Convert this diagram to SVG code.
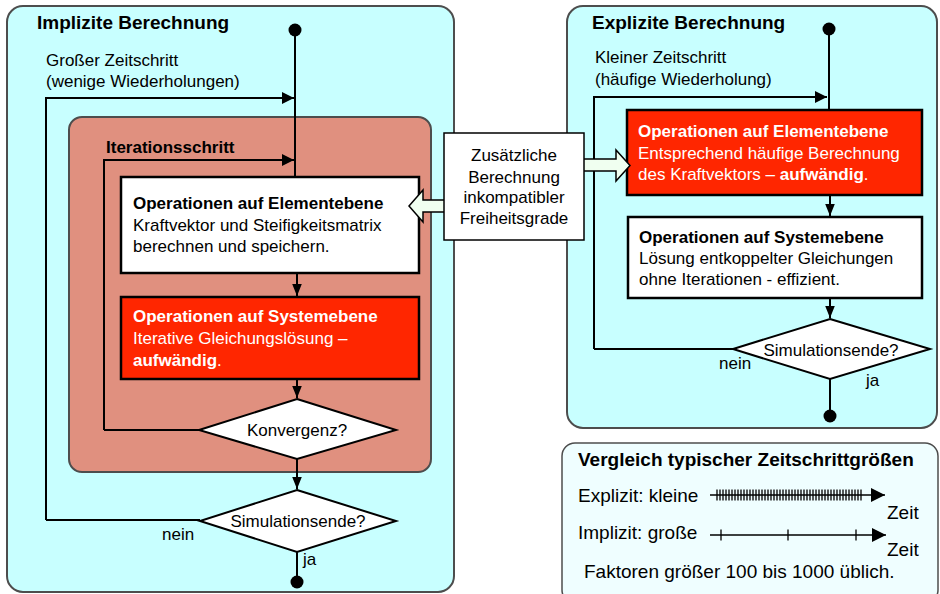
<svg xmlns="http://www.w3.org/2000/svg" width="940" height="594" viewBox="0 0 940 594">
  <defs>
    <marker id="arr" viewBox="0 0 10 10" refX="10" refY="5" markerWidth="16" markerHeight="12" markerUnits="userSpaceOnUse" orient="auto">
      <path d="M0,0 L10,5 L0,10 z" fill="#000"/>
    </marker>
    <marker id="arrS" viewBox="0 0 10 10" refX="10" refY="5" markerWidth="12" markerHeight="12" markerUnits="userSpaceOnUse" orient="auto">
      <path d="M0,1 L10,5 L0,9 z" fill="#000"/>
    </marker>
    <marker id="arrT" viewBox="0 0 10 10" refX="10" refY="5" markerWidth="20" markerHeight="14" markerUnits="userSpaceOnUse" orient="auto">
      <path d="M0,0 L10,5 L0,10 z" fill="#000"/>
    </marker>
  </defs>
  <style>
    text { font-family: "Liberation Sans", Arial, sans-serif; fill: #000; }
    .t { font-size: 17px; }
    .b { font-size: 17px; font-weight: bold; }
    .h { font-size: 19px; font-weight: bold; }
    .c { font-size: 19px; }
    .w { fill: #fff; }
    .panel { fill: #c8ffff; stroke: #4d4d4d; stroke-width: 2; }
    .iter { fill: #e0907f; stroke: #4d4d4d; stroke-width: 2; }
    .box { fill: #fff; stroke: #000; stroke-width: 2.5; }
    .hot { fill: #ff2600; stroke: #000; stroke-width: 2.5; }
    .dia { fill: #fff; stroke: #000; stroke-width: 2; }
    .ln { fill: none; stroke: #000; stroke-width: 2; }
    .thin { fill: none; stroke: #000; stroke-width: 1.3; }
    .blk { fill: #f0fff0; stroke: #000; stroke-width: 1.5; }
  </style>

  <!-- containers -->
  <g id="implicit">
    <rect class="panel" x="7" y="6" width="447" height="586" rx="16"/>
    <text class="h" x="37" y="29">Implizite Berechnung</text>
    <text class="t" x="46" y="66">Großer Zeitschritt</text>
    <text class="t" x="46" y="87">(wenige Wiederholungen)</text>
  </g>
  <g id="iteration">
    <rect class="iter" x="69" y="117" width="362" height="355" rx="13"/>
    <text class="b" x="106" y="153">Iterationsschritt</text>
  </g>
  <g id="explicit">
    <rect class="panel" x="567" y="6" width="370" height="422" rx="16"/>
    <text class="h" x="592" y="29">Explizite Berechnung</text>
    <text class="t" x="595" y="63">Kleiner Zeitschritt</text>
    <text class="t" x="595" y="85">(häufige Wiederholung)</text>
  </g>

  <!-- connectors -->
  <g id="connectors">
    <!-- implicit flow -->
    <path class="ln" d="M295,30 V177"/>
    <path class="ln" d="M46,520 H200 M46,520 V98 H294" marker-end="url(#arr)"/>
    <path class="ln" d="M104,430 H199 M104,430 V160 H294" marker-end="url(#arr)"/>
    <path class="ln" d="M297,273 V296" marker-end="url(#arrS)"/>
    <path class="ln" d="M297,379 V398" marker-end="url(#arrS)"/>
    <path class="ln" d="M297,459 V489" marker-end="url(#arrS)"/>
    <path class="ln" d="M297,552 V582"/>
    <!-- explicit flow -->
    <path class="ln" d="M829,29 V110"/>
    <path class="ln" d="M594,349 H733 M594,349 V97 H827" marker-end="url(#arr)"/>
    <path class="ln" d="M830,195 V216" marker-end="url(#arrS)"/>
    <path class="ln" d="M830,298 V318" marker-end="url(#arrS)"/>
    <path class="ln" d="M830,379 V416"/>
  </g>

  <!-- terminal dots -->
  <g id="start-implicit"><circle cx="295" cy="30" r="6.5" fill="#000"/></g>
  <g id="end-implicit"><circle cx="297" cy="582" r="6.5" fill="#000"/></g>
  <g id="start-explicit"><circle cx="829" cy="29" r="6.5" fill="#000"/></g>
  <g id="end-explicit"><circle cx="830" cy="416" r="6.5" fill="#000"/></g>

  <!-- implicit nodes -->
  <g id="impl-element">
    <rect class="box" x="121" y="177" width="298" height="96"/>
    <text class="b" x="133" y="209">Operationen auf Elementebene</text>
    <text class="t" x="133" y="231">Kraftvektor und Steifigkeitsmatrix</text>
    <text class="t" x="133" y="252">berechnen und speichern.</text>
  </g>
  <g id="impl-system">
    <rect class="hot" x="121" y="297" width="298" height="82"/>
    <text class="b w" x="133" y="322">Operationen auf Systemebene</text>
    <text class="t w" x="133" y="344">Iterative Gleichungslösung –</text>
    <text class="b w" x="133" y="366">aufwändig<tspan font-weight="normal">.</tspan></text>
  </g>
  <g id="impl-convergence">
    <polygon class="dia" points="297,399 396,430 297,459 199,430"/>
    <text class="t" x="297" y="436" text-anchor="middle">Konvergenz?</text>
  </g>
  <g id="impl-end">
    <polygon class="dia" points="297,490 396,521 297,552 200,521"/>
    <text class="t" x="298" y="527" text-anchor="middle">Simulationsende?</text>
    <text class="t" x="162" y="540">nein</text>
    <text class="t" x="303" y="565">ja</text>
  </g>

  <!-- explicit nodes -->
  <g id="expl-element">
    <rect class="hot" x="627" y="110" width="295" height="85"/>
    <text class="b w" x="638" y="137">Operationen auf Elementebene</text>
    <text class="t w" x="638" y="159">Entsprechend häufige Berechnung</text>
    <text class="t w" x="638" y="180">des Kraftvektors – <tspan font-weight="bold">aufwändig</tspan>.</text>
  </g>
  <g id="expl-system">
    <rect class="box" x="628" y="217" width="294" height="81"/>
    <text class="b" x="639" y="243">Operationen auf Systemebene</text>
    <text class="t" x="639" y="264">Lösung entkoppelter Gleichungen</text>
    <text class="t" x="639" y="285">ohne Iterationen - effizient.</text>
  </g>
  <g id="expl-end">
    <polygon class="dia" points="830,319 930,349 830,379 733,349"/>
    <text class="t" x="831" y="356" text-anchor="middle">Simulationsende?</text>
    <text class="t" x="719" y="369">nein</text>
    <text class="t" x="866" y="386">ja</text>
  </g>

  <!-- shared note with block arrows into both element boxes -->
  <g id="note">
    <path class="blk" d="M446,200 H423 V190 L409,206 L423,222 V212 H446 z"/>
    <path class="blk" d="M582,159 H616 V150 L630,165.5 L616,181 V171 H582 z"/>
    <rect x="444" y="133" width="140" height="107" fill="#fff" stroke="#000" stroke-width="1.5"/>
    <text class="t" x="514" y="161" text-anchor="middle">Zusätzliche</text>
    <text class="t" x="514" y="183" text-anchor="middle">Berechnung</text>
    <text class="t" x="514" y="203" text-anchor="middle">inkompatibler</text>
    <text class="t" x="514" y="224" text-anchor="middle">Freiheitsgrade</text>
  </g>

  <!-- time step comparison -->
  <g id="comparison">
    <rect x="562" y="443" width="376" height="160" rx="13" fill="#effeff" stroke="#4d4d4d" stroke-width="1.5"/>
    <text class="c" x="578" y="466" font-weight="bold">Vergleich typischer Zeitschrittgrößen</text>
    <text class="c" x="578" y="502">Explizit: kleine</text>
    <path class="thin" d="M710,495 H885" marker-end="url(#arrT)"/>
    <path class="thin" stroke-width="1" d="M717,489.5 v11 M720,489.5 v11 M723,489.5 v11 M726,489.5 v11 M729,489.5 v11 M732,489.5 v11 M735,489.5 v11 M738,489.5 v11 M741,489.5 v11 M744,489.5 v11 M747,489.5 v11 M750,489.5 v11 M753,489.5 v11 M756,489.5 v11 M759,489.5 v11 M762,489.5 v11 M765,489.5 v11 M768,489.5 v11 M771,489.5 v11 M774,489.5 v11 M777,489.5 v11 M780,489.5 v11 M783,489.5 v11 M786,489.5 v11 M789,489.5 v11 M792,489.5 v11 M795,489.5 v11 M798,489.5 v11 M801,489.5 v11 M804,489.5 v11 M807,489.5 v11 M810,489.5 v11 M813,489.5 v11 M816,489.5 v11 M819,489.5 v11 M822,489.5 v11 M825,489.5 v11 M828,489.5 v11 M831,489.5 v11 M834,489.5 v11 M837,489.5 v11 M840,489.5 v11 M843,489.5 v11 M846,489.5 v11 M849,489.5 v11 M852,489.5 v11 M855,489.5 v11 M858,489.5 v11 M861,489.5 v11"/>
    <text class="c" x="887" y="519">Zeit</text>
    <text class="c" x="578" y="539">Implizit: große</text>
    <path class="thin" d="M710,535 H886" marker-end="url(#arrT)"/>
    <path class="thin" stroke-width="1" d="M721,529.5 v11 M788,529.5 v11 M856,529.5 v11"/>
    <text class="c" x="887" y="556">Zeit</text>
    <text class="c" x="584" y="578">Faktoren größer 100 bis 1000 üblich.</text>
  </g>
</svg>
